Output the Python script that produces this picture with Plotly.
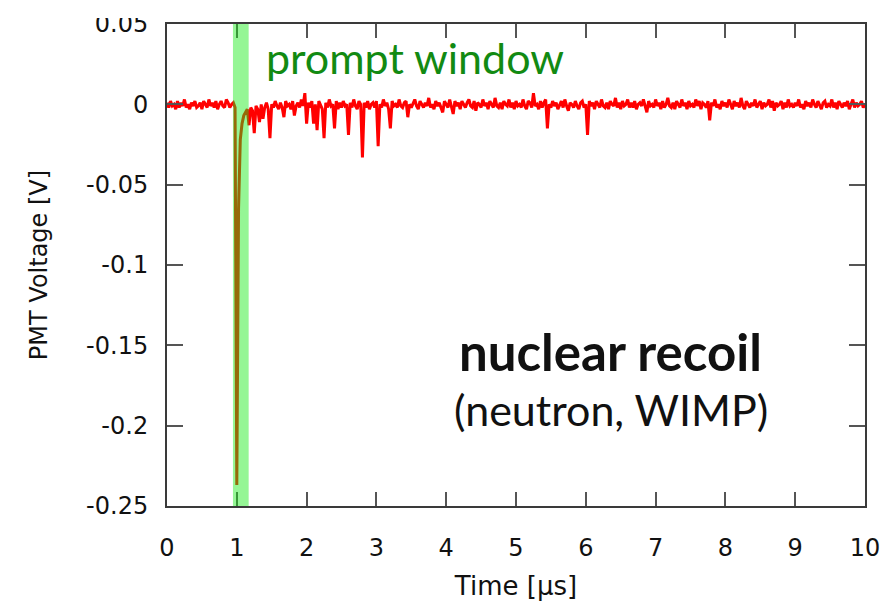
import numpy as np
import plotly.graph_objects as go

# ---- data ----
sample_step_us = 0.025
voltage_mV = [
    1, -2, 2, -1, 0, -3, 2, -2, 1, -1, 3, -2, 0, -3, 1, -1, 2, -2, -1, 1,
    -3, 2, 0, -2, 3, -1, 1, -2, 2, -3, 0, 2, -1, -2, 3, 1, -2, 0, 1, -2,
    -237, -65, -22, -12, -7, -5, -3, -13, -2, -4, -18, -1, -3, -11, 0, -9, -2, 1, -3, -21,
    0, -2, 2, -1, -3, 1, -2, -8, 2, -1, 0, -3, 2, -7, -1, 1, -2, 3, -1, 7,
    -12, 1, -2, 2, -12, 0, -16, 2, -1, -3, -21, 1, -2, 3, -1, 0, -15, 2, -3, 1,
    -2, 2, -1, 0, -19, 1, -2, 3, -1, -3, 2, 0, -33, 1, -2, 2, -3, 0, 1, -2,
    2, -26, 0, -2, 3, -1, 1, -3, -15, 2, -1, 0, -2, 3, -1, -2, 1, 2, -8, 0,
    -2, 1, 3, -1, -3, 2, 0, -2, 1, -1, 4, -2, 0, -3, 2, -1, 1, -2, -5, 2,
    0, -2, 3, -1, -6, 2, -1, 1, -3, 2, 0, -2, 1, 3, -1, -2, 2, -4, 1, 0,
    -2, 3, -1, 1, -3, 2, 0, -2, 4, -1, -2, 1, -3, 2, 0, -1, 3, -2, 1, -3,
    2, -1, 0, -2, 3, -1, -3, 2, 1, -2, 7, -1, 0, -3, 2, -2, 1, 3, -15, 0,
    -2, 2, -1, 1, -3, 0, 2, -2, 3, -1, -4, 1, 0, -2, 2, -1, -3, 1, 2, -2,
    0, -19, 2, -1, 1, -3, 2, 0, -2, 3, -1, -2, 1, -3, 2, 0, -1, 4, -2, 1,
    -3, 2, -1, 0, 3, -2, 1, -2, 2, -3, 0, 1, -1, 3, -2, -5, 2, -1, 0, -2,
    3, -1, 1, -3, 2, -2, 0, 4, -1, -2, 1, -3, 2, 0, -2, 3, -1, 1, -3, 2,
    -1, 0, -2, 3, -1, 2, -3, 1, 0, -2, 2, -10, 1, -1, 3, -2, 0, -3, 2, -1,
    1, -2, 3, 0, -3, 2, -1, 1, -2, 4, -1, -3, 2, 0, -2, 1, -1, 3, -2, 0,
    2, -3, 1, -1, 0, 3, -2, 2, -4, 1, -1, 0, 2, -3, 1, -2, 3, -1, 0, -2,
    1, -1, 3, -2, 0, -3, 2, -1, 1, -2, 3, 0, -2, 2, -1, -3, 1, 2, -2, 0,
    -1, 3, -2, 1, -3, 2, 0, -2, 1, -1, 2, -3, 0, 3, -2, 1, -1, 0, 2, -2,
    0,
]
prompt_window_us = [0.945, 1.17]
x_tick_vals = [0, 1, 2, 3, 4, 5, 6, 7, 8, 9, 10]
y_tick_vals = [0.05, 0, -0.05, -0.1, -0.15, -0.2, -0.25]
y_tick_text = ["0.05", "0", "-0.05", "-0.1", "-0.15", "-0.2", "-0.25"]

time_us = np.arange(len(voltage_mV)) * sample_step_us
voltage_V = np.array(voltage_mV) / 1000.0

FONT = "DejaVu Sans"
TEXTFONT = "Lato"

fig = go.Figure()
fig.add_trace(go.Scatter(
    x=time_us, y=voltage_V, mode="lines",
    line=dict(color="#ff0000", width=3),
    showlegend=False, hoverinfo="skip",
))

# prompt window band (drawn above the trace, semi-transparent)
fig.add_shape(type="rect", xref="x", yref="paper",
              x0=prompt_window_us[0], x1=prompt_window_us[1], y0=0, y1=1,
              fillcolor="rgba(20,235,20,0.45)", line=dict(width=0), layer="above")

fig.add_annotation(x=3.55, y=0.029, xref="x", yref="y", text="prompt window",
                   showarrow=False, font=dict(family=TEXTFONT, size=43, color="#128a12"))
fig.add_annotation(x=6.36, y=-0.154, xref="x", yref="y", text="<b>nuclear recoil</b>",
                   showarrow=False, font=dict(family=TEXTFONT, size=51, color="#111111"))
fig.add_annotation(x=6.36, y=-0.19, xref="x", yref="y", text="(neutron, WIMP)",
                   showarrow=False, font=dict(family=TEXTFONT, size=43, color="#111111"))

# white patch mimicking the cropped top edge of the original picture
fig.add_annotation(x=0, y=1, xref="paper", yref="paper", xanchor="right", yanchor="bottom",
                   xshift=-8, yshift=6, text=" ", width=100, height=20,
                   bgcolor="white", borderwidth=0, borderpad=0, showarrow=False)

axis_common = dict(
    showline=True, linecolor="#3a3a3a", linewidth=2, mirror="ticks",
    ticks="inside", tickcolor="#555555", tickwidth=2,
    showgrid=False, zeroline=False,
    tickfont=dict(family=FONT, size=24, color="#111111"),
)

fig.update_xaxes(range=[0, 10], tickvals=x_tick_vals, ticklen=14,
                 ticklabelstandoff=19,
                 title=dict(text="Time [µs]", font=dict(family=FONT, size=26, color="#111111"),
                            standoff=16),
                 **axis_common)
fig.update_yaxes(range=[-0.25, 0.05], tickvals=y_tick_vals, ticktext=y_tick_text,
                 ticklen=16, ticklabelstandoff=12,
                 title=dict(text="PMT Voltage [V]", font=dict(family=FONT, size=24, color="#111111"),
                            standoff=32),
                 **axis_common)

fig.update_layout(
    width=881, height=605,
    margin=dict(l=167, r=16, t=24, b=99, autoexpand=False),
    plot_bgcolor="white", paper_bgcolor="white",
)

fig.write_html("out.html")
